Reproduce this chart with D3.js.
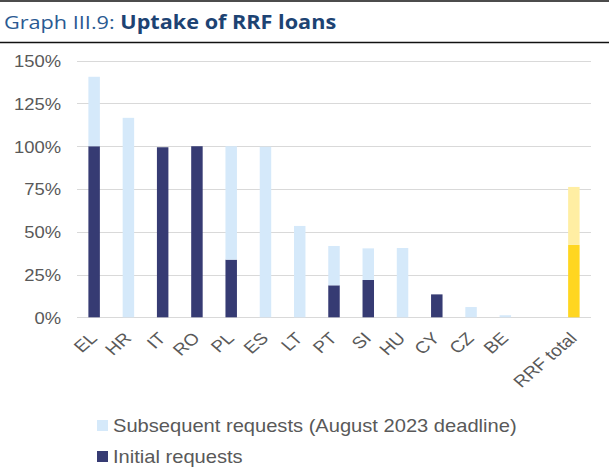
<!DOCTYPE html>
<html>
<head>
<meta charset="utf-8">
<script src="https://cdn.jsdelivr.net/npm/d3@7"></script>
<style>
  html, body { margin: 0; padding: 0; background: #fff; }
  svg { display: block; }
</style>
</head>
<body>
<svg id="chart" width="609" height="475"></svg>
<script>
// Uptake of RRF loans, % of each country's loan allocation
const categories = ["EL", "HR", "IT", "RO", "PL", "ES", "LT", "PT", "SI", "HU", "CY", "CZ", "BE", "", "RRF total"];
const initialRequests    = [100, 0, 99.4, 100, 33.7, 0, 0, 18.7, 21.8, 0, 13.4, 0, 0, null, 42.3];
const subsequentRequests = [40.6, 116.6, 0, 0, 66.3, 99.7, 53.4, 23.0, 18.5, 40.5, 0, 6.0, 1.2, null, 33.9];
const yTicks = [0, 25, 50, 75, 100, 125, 150];
const legendLabels = ["Subsequent requests (August 2023 deadline)", "Initial requests"];

const colors = {
  initial: "#363b73",
  subsequent: "#d5e9fa",
  totalInitial: "#ffd620",
  totalSubsequent: "#ffeea3",
  text: "#595959",
  grid: "#d9d9d9"
};
const stretch = 1.15; // wide sans rendering of the labels

const svg = d3.select("#chart");
const font = "'Liberation Sans', Arial, sans-serif";

// Header: rules and title
svg.append("line").attr("x1", 0).attr("x2", 609).attr("y1", 1).attr("y2", 1)
  .attr("stroke", "#111").attr("stroke-width", 1.5);
svg.append("line").attr("x1", 0).attr("x2", 609).attr("y1", 42.5).attr("y2", 42.5)
  .attr("stroke", "#111").attr("stroke-width", 1.5);
const title = svg.append("text")
  .attr("x", 0).attr("y", 0)
  .attr("transform", "translate(4,28.5) scale(1.14,1)")
  .attr("font-family", "'Open Sans', 'Noto Sans', sans-serif")
  .attr("font-size", 19);
title.append("tspan").attr("fill", "#2a5a92").text("Graph III.9: ");
title.append("tspan").attr("fill", "#1d4373").attr("font-weight", "bold").text("Uptake of RRF loans");

// Scales
const x = d3.scaleBand()
  .domain(categories.map((c, i) => i))
  .range([77, 591])
  .paddingInner(0.665)
  .paddingOuter(0.3325);
const y = d3.scaleLinear().domain([0, 150]).range([317.3, 60.7]);

// Gridlines
svg.append("g")
  .selectAll("line")
  .data(yTicks)
  .join("line")
  .attr("x1", 77).attr("x2", 591)
  .attr("y1", d => Math.round(y(d)) + 0.5)
  .attr("y2", d => Math.round(y(d)) + 0.5)
  .attr("stroke", colors.grid)
  .attr("stroke-width", 1.2);

// Y axis labels
const yAxis = svg.append("g")
  .attr("transform", "translate(77,0)")
  .call(d3.axisLeft(y).tickValues(yTicks).tickFormat(d => d + "%").tickSize(0).tickPadding(0));
yAxis.select(".domain").remove();
yAxis.selectAll("text")
  .attr("x", 0)
  .attr("dy", "0.36em")
  .attr("transform", `translate(-16,0) scale(${stretch},1)`)
  .attr("font-family", font)
  .attr("font-size", 16)
  .attr("fill", colors.text);

// Stacked bars
const rows = categories.map((c, i) => ({
  i, c,
  initial: initialRequests[i],
  subsequent: subsequentRequests[i],
  total: c === "RRF total"
})).filter(d => d.initial !== null);

const bars = svg.append("g");
bars.selectAll("rect.initial")
  .data(rows.filter(d => d.initial > 0))
  .join("rect")
  .attr("class", "initial")
  .attr("x", d => x(d.i))
  .attr("width", x.bandwidth())
  .attr("y", d => y(d.initial))
  .attr("height", d => y(0) - y(d.initial))
  .attr("fill", d => d.total ? colors.totalInitial : colors.initial);
bars.selectAll("rect.subsequent")
  .data(rows.filter(d => d.subsequent > 0))
  .join("rect")
  .attr("class", "subsequent")
  .attr("x", d => x(d.i))
  .attr("width", x.bandwidth())
  .attr("y", d => y(d.initial + d.subsequent))
  .attr("height", d => y(d.initial) - y(d.initial + d.subsequent))
  .attr("fill", d => d.total ? colors.totalSubsequent : colors.subsequent);

// X axis labels, rotated
const xAxis = svg.append("g")
  .attr("transform", "translate(0,317.3)")
  .call(d3.axisBottom(x).tickFormat(i => categories[i]).tickSize(0).tickPadding(0));
xAxis.select(".domain").remove();
xAxis.selectAll("text")
  .attr("x", 0).attr("y", 0).attr("dy", 0)
  .attr("text-anchor", "end")
  .attr("transform", `translate(4,22) scale(${stretch},1) rotate(-45)`)
  .attr("font-family", font)
  .attr("font-size", 16.5)
  .attr("fill", colors.text);

// Legend
const legend = svg.append("g");
const legendItems = [
  { label: legendLabels[0], color: colors.subsequent },
  { label: legendLabels[1], color: colors.initial }
];
legendItems.forEach((d, k) => {
  const gy = 420 + k * 31;
  legend.append("rect")
    .attr("x", 97).attr("y", gy)
    .attr("width", 11).attr("height", 11)
    .attr("fill", d.color);
  legend.append("text")
    .attr("x", 0).attr("y", 0)
    .attr("transform", `translate(113,${gy + 12}) scale(${stretch},1)`)
    .attr("font-family", font)
    .attr("font-size", 17.5)
    .attr("fill", colors.text)
    .text(d.label);
});
</script>
</body>
</html>
